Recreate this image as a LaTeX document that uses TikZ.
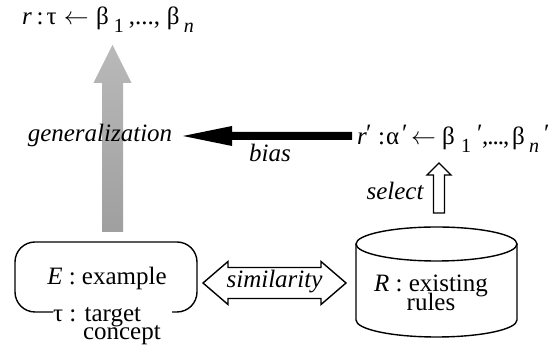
\documentclass[tikz,border=0pt]{standalone}
\usepackage{fontspec}
\setmainfont{Liberation Serif}
\usetikzlibrary{calc}
\newcommand{\lowsub}[1]{\raisebox{-8pt}{\fontsize{20}{20}\selectfont #1}}
\newcommand{\pr}{\raisebox{3pt}{′}}
\newcommand{\pc}[2]{\makebox[#1][l]{#2}}
\begin{document}
\begin{tikzpicture}[x=1pt,y=1pt,
  font=\fontsize{25}{27}\selectfont,
  lbl/.style={inner sep=0pt, outer sep=0pt},
  genarrow/.style={top color=gray!55, bottom color=gray!75, draw=none},
  hollow/.style={draw=black, line width=1.4pt, fill=white, line join=miter},
  boxline/.style={draw=black, line width=1.4pt},
]
\useasboundingbox (0,0) rectangle (555,350);

% ---------- text nodes ----------
\node[lbl, anchor=base west] (top) at (22,325)
  {\pc{14.5pt}{\textit{r}}\pc{10pt}{:}\pc{17.5pt}{τ}\pc{32pt}{$\leftarrow$}\pc{18pt}{β}\pc{15pt}{\lowsub{1}}\pc{38pt}{,...,}\pc{17pt}{β}\lowsub{\textit{n}}};
\node[lbl, anchor=base west] (rp) at (357,205)
  {\pc{9pt}{\textit{r}}\pc{12pt}{\pr}\pc{8pt}{:}\pc{16pt}{α}\pc{9pt}{\pr}\pc{31pt}{$\leftarrow$}\pc{19pt}{β}\pc{16pt}{\lowsub{1}}\pc{5pt}{\pr}\pc{30pt}{,\kern-1pt.\kern-1pt.\kern-1pt.\kern-1pt,}\pc{17pt}{β}\pc{15pt}{\lowsub{\textit{n}}}\pr};
\node[lbl, anchor=base] (E) at (107,65) {\textit{E} : example};
\node[lbl, anchor=base west] (tau) at (53,28) {τ : target};
\node[lbl, anchor=base west] (tau2) at (83,10) {concept};
\node[lbl, anchor=base] (R) at (431,58) {\textit{R} : existing};
\node[lbl, anchor=base] (Rb) at (431,39) {rules};

% ---------- generalization (gray) arrow ----------
\coordinate (gTail) at (112.5,118);
\coordinate (gTip)  at (112.5,305);
\shade[genarrow] ($(gTail)+(-10.5,0)$) -- ($(gTip)+(-10.5,-38)$) -- ($(gTip)+(-19,-38)$)
  -- (gTip) -- ($(gTip)+(19,-38)$) -- ($(gTip)+(10.5,-38)$) -- ($(gTail)+(10.5,0)$) -- cycle;
\node[lbl, anchor=base] (gen) at (100,208) {\textit{generalization}};

% ---------- bias arrow ----------
\coordinate (bTail) at (352,214);
\coordinate (bTip)  at (183,214);
\fill[black] ($(bTail)+(0,4)$) -- ($(bTip)+(49,4)$) -- ($(bTip)+(49,10)$) -- (bTip)
  -- ($(bTip)+(49,-10)$) -- ($(bTip)+(49,-4)$) -- ($(bTail)+(0,-4)$) -- cycle;
\node[lbl, anchor=base] (bias) at (270,188) {\textit{bias}};

% ---------- select arrow ----------
\coordinate (sTail) at (439,137);
\coordinate (sTip)  at (439,187);
\draw[hollow] ($(sTail)+(-5.5,0)$) -- ($(sTip)+(-5.5,-12)$) -- ($(sTip)+(-12,-12)$) -- (sTip)
  -- ($(sTip)+(12,-12)$) -- ($(sTip)+(5.5,-12)$) -- ($(sTail)+(5.5,0)$) -- cycle;
\node[lbl, anchor=base east] (sel) at (424,150) {\textit{select}};

% ---------- similarity double arrow ----------
\coordinate (dL) at (203,67);
\coordinate (dR) at (346,67);
\draw[hollow] (dL) -- ($(dL)+(25,21.5)$) -- ($(dL)+(25,15.5)$) -- ($(dR)+(-25,15.5)$)
  -- ($(dR)+(-25,21.5)$) -- (dR) -- ($(dR)+(-25,-21.5)$) -- ($(dR)+(-25,-15.5)$)
  -- ($(dL)+(25,-15.5)$) -- ($(dL)+(25,-21.5)$) -- cycle;
\node[lbl] (sim) at (274.5,68) {\textit{similarity}};

% ---------- E box (open at the bottom) ----------
\draw[boxline, rounded corners=20pt] (53,38) -- (15,38) -- (15,108) -- (197,108)
  -- (197,38) -- (172,38);

% ---------- R cylinder ----------
\draw[boxline] (436.5,106) ellipse [x radius=80.5, y radius=17];
\draw[boxline] (356,106) -- (356,30) arc[start angle=180, end angle=360, x radius=80.5, y radius=17]
  -- (517,106);
\end{tikzpicture}
\end{document}
